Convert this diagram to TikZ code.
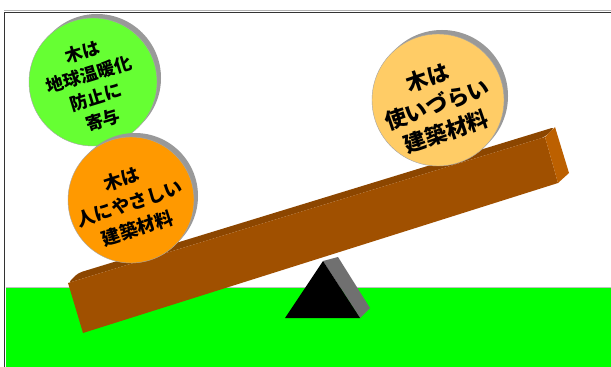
\documentclass[tikz,border=0pt]{standalone}
\usepackage{fontspec}
\newfontfamily\jpfont{Noto Sans CJK JP}
\usetikzlibrary{positioning}
\definecolor{Grass}{HTML}{00FF00}
\definecolor{WoodFront}{HTML}{A05000}
\definecolor{WoodTop}{HTML}{8C4600}
\definecolor{WoodEnd}{HTML}{BC6000}
\definecolor{FulcrumSide}{HTML}{707070}
\definecolor{BallGreen}{HTML}{66FF33}
\definecolor{BallOrange}{HTML}{FF9900}
\definecolor{BallCream}{HTML}{FFCC66}
\definecolor{FrameDark}{HTML}{333333}

\tikzset{
  ballshadow/.style={fill=gray!80},
  ball/.style={draw=gray!70, line width=0.3pt},
  % text set large, then scaled down with the node
  balltext/.style={font=\jpfont\bfseries\fontsize{30}{30}\selectfont, scale=#1},
  balltext/.default=0.42,
}

\begin{document}
\begin{tikzpicture}[x=0.025cm, y=0.025cm]
    \useasboundingbox (0,0) rectangle (611,-367);
    \fill[white] (0,0) rectangle (611,-367);

    % Frame
    \draw[gray!60, line width=0.7pt] (4,-10.5) -- (611,-10.5);
    \draw[FrameDark, line width=1.2pt] (4.5,-367) -- (4.5,-12.5) -- (611,-12.5);

    % Ground
    \fill[Grass] (5.5,-287) rectangle (611,-367);
    \draw[gray!50, line width=0.6pt] (5.5,-287) -- (611,-287);

    % Fulcrum (side face, then front)
    \fill[FulcrumSide] (323,-261) -- (338,-257) -- (370,-308) -- (360,-318) -- cycle;
    \fill[black] (323,-261) -- (360,-318) -- (285,-318) -- cycle;

    % Plank: top face, front face, end face
    \fill[WoodTop, rounded corners=3] (68,-283) -- (78,-273) -- (555,-127) -- (545,-137) -- cycle;
    \fill[WoodFront] (68,-283) -- (545,-137) -- (558,-183) -- (83,-333) -- cycle;
    \fill[WoodEnd] (545,-137) -- (555,-127) -- (569,-173) -- (558,-183) -- cycle;

    % Balls: shadow, then disc
    \fill[ballshadow] (97,-78) circle (64);
    \filldraw[ball, fill=BallGreen] (93,-82) circle (64);
    \fill[ballshadow] (135,-196) circle (63);
    \filldraw[ball, fill=BallOrange] (131,-200) circle (63);
    \fill[ballshadow] (442,-96) circle (66);
    \filldraw[ball, fill=BallCream] (438,-100) circle (66);

    % Green ball text
    \node[balltext=0.417, rotate=17] (warm1) at (82.1,-51.8) {木は};
    \node[balltext=0.417, rotate=17] (warm2) at (89.0,-74.4) {地球温暖化};
    \node[balltext=0.417, rotate=17] (warm3) at (96.0,-97.1) {防止に};
    \node[balltext=0.417, rotate=17] (warm4) at (102.9,-119.7) {寄与};

    % Orange ball text
    \node[balltext=0.433, rotate=18] (kind1) at (121.5,-178.8) {木は};
    \node[balltext=0.433, rotate=18] (kind2) at (129.5,-203.5) {人にやさしい};
    \node[balltext=0.433, rotate=18] (kind3) at (137.5,-228.2) {建築材料};

    % Cream ball text
    \node[balltext=0.517, rotate=19] (hard1) at (427.6,-77.3) {木は};
    \node[balltext=0.517, rotate=19] (hard2) at (437,-104.5) {使いづらい};
    \node[balltext=0.517, rotate=19] (hard3) at (446.4,-131.7) {建築材料};
\end{tikzpicture}
\end{document}
